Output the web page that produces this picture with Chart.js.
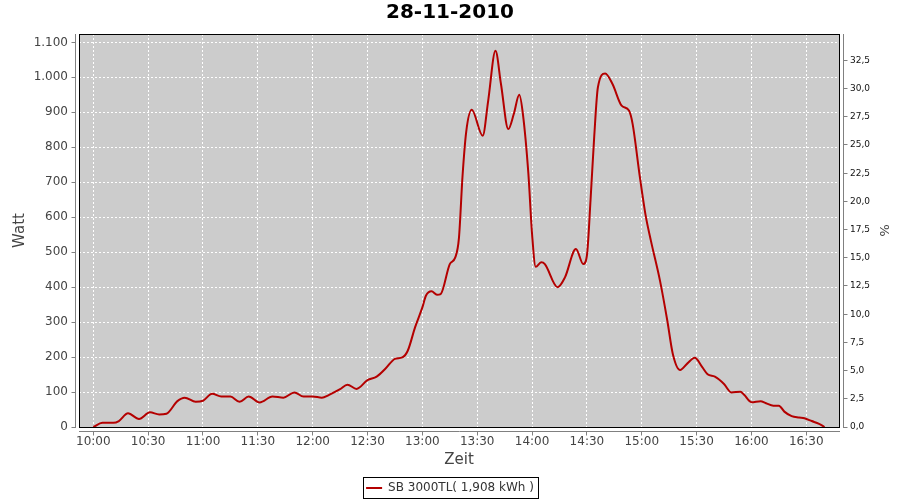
<!DOCTYPE html>
<html>
<head>
<meta charset="utf-8">
<script src="https://cdn.jsdelivr.net/npm/chart.js@4/dist/chart.umd.min.js"></script>
<style>
html, body { margin: 0; padding: 0; background: #fff; }
</style>
</head>
<body>
<canvas id="chart" width="900" height="500"></canvas>
<script>
// power readings
const times = ['10:00','10:05','10:11','10:14','10:19','10:25','10:31','10:36','10:40','10:46',
'10:50','10:56','11:00','11:05','11:10','11:15','11:20','11:25','11:31','11:38',
'11:44','11:50','11:55','12:00','12:05','12:09','12:15','12:19','12:24','12:30',
'12:35','12:40','12:45','12:49','12:52','12:56','13:00','13:02','13:05','13:08',
'13:10','13:15','13:18','13:20','13:22','13:24','13:27','13:33','13:36','13:40',
'13:43','13:47','13:50','13:53','13:55','13:58','14:00','14:02','14:05','14:07',
'14:14','14:18','14:24','14:28','14:30','14:32','14:34','14:36','14:40','14:44',
'14:49','14:53','14:55','14:59','15:02','15:05','15:10','15:14','15:17','15:21',
'15:25','15:29','15:33','15:36','15:40','15:45','15:49','15:54','15:56','16:00',
'16:05','16:08','16:12','16:15','16:18','16:22','16:26','16:29','16:33','16:37','16:40'];
const watts = [0, 12, 12, 17, 39, 23, 42, 36, 38, 74,
84, 72, 75, 95, 87, 87, 72, 87, 70, 87,
84, 99, 87, 87, 84, 92, 108, 121, 109, 134,
144, 168, 195, 199, 218, 285, 342, 376, 388, 378,
380, 466, 485, 540, 720, 845, 907, 833, 933, 1076,
981, 852, 895, 950, 895, 724, 552, 458, 471, 466,
400, 428, 509, 466, 490, 650, 830, 971, 1011, 981,
919, 905, 867, 714, 609, 533, 418, 304, 209, 163,
182, 198, 172, 151, 144, 123, 99, 101, 92, 71,
74, 68, 61, 61, 44, 31, 27, 25, 17, 9, 0];

const xTickLabels = ['10:00','10:30','11:00','11:30','12:00','12:30','13:00',
'13:30','14:00','14:30','15:00','15:30','16:00','16:30'];
const wattTicks = [0, 100, 200, 300, 400, 500, 600, 700, 800, 900, 1000, 1100];
const pctTicks = [0, 2.5, 5, 7.5, 10, 12.5, 15, 17.5, 20, 22.5, 25, 27.5, 30, 32.5];

const chartTitle = '28-11-2010';
const seriesLabel = 'SB 3000TL( 1,908 kWh )';

function toMin(s) {
    const [h, m] = s.split(':').map(Number);
    return (h - 10) * 60 + m;
}
function fmtTime(v) {
    const h = 10 + Math.floor(v / 60);
    const m = Math.round(v % 60);
    return h + ':' + String(m).padStart(2, '0');
}
function fmtWatt(v) {
    return String(v).replace(/\B(?=(\d{3})+(?!\d))/g, '.');
}

Chart.defaults.font.family = '"DejaVu Sans", sans-serif';

function align(p) { return Math.round(p - 0.5) + 0.5; }

// grey plot background, black frame, offset axis lines, legend box
const frame = {
    id: 'frame',
    beforeDraw(chart) {
        const {ctx, chartArea: a} = chart;
        ctx.save();
        ctx.fillStyle = '#cccccc';
        ctx.fillRect(a.left, a.top, a.right - a.left, a.bottom - a.top);
        ctx.restore();
    },
    afterDraw(chart) {
        const {ctx, chartArea: a, scales} = chart;
        ctx.save();
        ctx.lineWidth = 1;
        ctx.strokeStyle = '#000';
        ctx.strokeRect(a.left + 0.5, a.top + 0.5, a.right - a.left, a.bottom - a.top);

        ctx.strokeStyle = '#808080';
        ctx.beginPath();
        // left axis
        const lx = a.left - 3.5;
        ctx.moveTo(lx, a.top); ctx.lineTo(lx, a.bottom + 1);
        scales.y.ticks.forEach(t => {
            const y = align(scales.y.getPixelForValue(t.value));
            ctx.moveTo(lx - 4, y); ctx.lineTo(lx, y);
        });
        // right axis
        const rx = a.right + 4.5;
        ctx.moveTo(rx, a.top); ctx.lineTo(rx, a.bottom + 1);
        scales.y2.ticks.forEach(t => {
            const y = align(scales.y2.getPixelForValue(t.value));
            ctx.moveTo(rx, y); ctx.lineTo(rx + 4, y);
        });
        // bottom axis
        const by = a.bottom + 4.5;
        ctx.moveTo(a.left, by); ctx.lineTo(a.right + 1, by);
        scales.x.ticks.forEach(t => {
            const x = align(scales.x.getPixelForValue(t.value));
            ctx.moveTo(x, by); ctx.lineTo(x, by + 4);
        });
        ctx.stroke();

        // box round the legend
        const hb = chart.legend.legendHitBoxes[0];
        if (hb) {
            const cy = hb.top + hb.height / 2;
            ctx.strokeStyle = '#000';
            ctx.strokeRect(Math.round(hb.left) - 2.5, Math.round(cy) - 10.5, Math.round(hb.width) + 7, 21);
        }
        ctx.restore();
    }
};

new Chart(document.getElementById('chart'), {
    type: 'line',
    data: {
        datasets: [{
            label: seriesLabel,
            data: times.map((t, i) => ({x: toMin(t), y: watts[i]})),
            borderColor: '#b40000',
            backgroundColor: '#b40000',
            borderWidth: 2,
            pointRadius: 0,
            cubicInterpolationMode: 'monotone',
            fill: false,
            yAxisID: 'y'
        }]
    },
    options: {
        responsive: false,
        devicePixelRatio: 1,
        animation: false,
        events: [],
        layout: { padding: {top: 0, left: 0, right: 0, bottom: -4} },
        scales: {
            x: {
                type: 'linear',
                min: -7.82,
                max: 407.9,
                afterBuildTicks: s => { s.ticks = xTickLabels.map(l => ({value: toMin(l)})); },
                afterFit: s => { s.height = 45; },
                grid: { color: '#ffffff', drawTicks: false, lineWidth: 1 },
                border: { display: false, dash: [2, 2] },
                ticks: {
                    padding: 8, color: '#444', font: {size: 12},
                    autoSkip: false, maxRotation: 0,
                    callback: v => fmtTime(v)
                },
                title: { display: true, text: 'Zeit', color: '#444', font: {size: 15}, padding: {top: 0, bottom: 3} }
            },
            y: {
                position: 'left',
                min: 0,
                max: 1124,
                afterBuildTicks: s => { s.ticks = wattTicks.map(v => ({value: v})); },
                afterFit: s => { s.width = 79; },
                grid: { color: '#ffffff', drawTicks: false, lineWidth: 1 },
                border: { display: false, dash: [2, 2] },
                ticks: { padding: 11, color: '#444', font: {size: 12}, callback: v => fmtWatt(v) },
                title: { display: true, text: 'Watt', color: '#444', font: {size: 15}, padding: {top: 11, bottom: 0} }
            },
            y2: {
                position: 'right',
                display: true,
                min: 0,
                max: 34.84,
                afterBuildTicks: s => { s.ticks = pctTicks.map(v => ({value: v})); },
                afterFit: s => { s.width = 61; },
                grid: { display: false, drawTicks: false },
                border: { display: false },
                ticks: { padding: 11, color: '#111', font: {size: 9}, callback: v => v.toFixed(1).replace('.', ',') },
                title: { display: true, text: '%', color: '#444', font: {size: 13}, padding: {top: 9, bottom: 0} }
            }
        },
        plugins: {
            title: {
                display: true,
                text: chartTitle,
                color: '#000',
                font: {size: 20, weight: 'bold'},
                padding: {top: 1, bottom: 9}
            },
            legend: {
                position: 'bottom',
                labels: {
                    color: '#333',
                    font: {size: 12},
                    boxWidth: 16,
                    boxHeight: 2,
                    padding: 10,
                    generateLabels: chart => Chart.defaults.plugins.legend.labels.generateLabels(chart)
                        .map(l => Object.assign(l, {lineWidth: 0}))
                }
            },
            tooltip: { enabled: false }
        }
    },
    plugins: [frame]
});
</script>
</body>
</html>
